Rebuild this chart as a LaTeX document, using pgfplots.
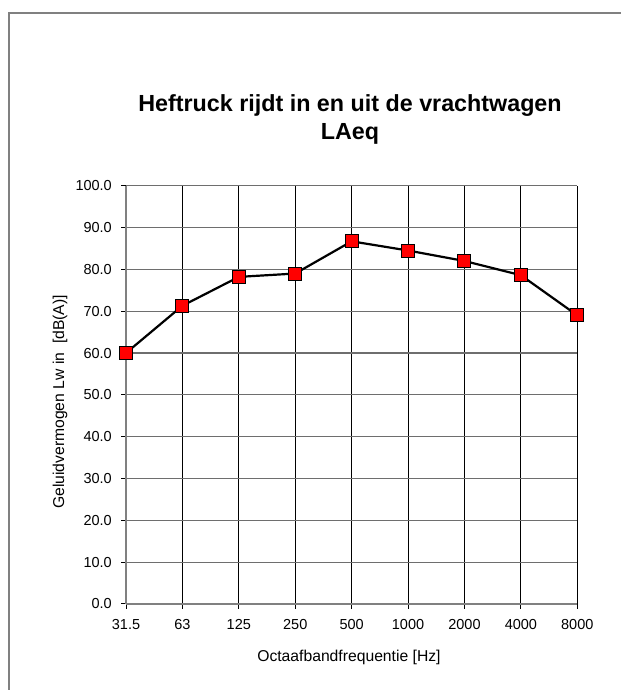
\documentclass[border=0pt]{standalone}
\usepackage{fontspec}
\setmainfont{Liberation Sans}
\usepackage{pgfplots}
\pgfplotsset{compat=1.18}
\definecolor{framegray}{RGB}{128,128,128}
\definecolor{gridgray}{RGB}{110,110,110}
\definecolor{mkred}{RGB}{255,0,0}
\begin{document}
\begin{tikzpicture}[x=1pt,y=1pt]
\useasboundingbox (0,0) rectangle (621,690);
\draw[framegray, line width=1.5pt] (9,0) -- (9,677) -- (621,677);
\node[anchor=base, font=\fontsize{23.3}{28}\selectfont\bfseries] at (350,578.3) {Heftruck rijdt in en uit de vrachtwagen};
\node[anchor=base, font=\fontsize{23.3}{28}\selectfont\bfseries] at (350,550) {LAeq};
\begin{axis}[
  at={(126pt,86pt)}, anchor=south west,
  scale only axis, width=451.3pt, height=418.3pt,
  xmin=0, xmax=8, ymin=0, ymax=100,
  clip=false,
  axis lines=left,
  axis line style={-, draw=framegray, line width=1.5pt},
  xtick={0,1,2,3,4,5,6,7,8},
  xticklabels={31.5,63,125,250,500,1000,2000,4000,8000},
  ytick={0,10,20,30,40,50,60,70,80,90,100},
  yticklabel={\pgfmathprintnumber[fixed,fixed zerofill,precision=1]{\tick}},
  /pgf/number format/assume math mode=true,
  tick align=outside,
  major tick length=5pt,
  tick style={draw=black, line width=1pt},
  ticklabel style={font=\fontsize{14.5}{17}\selectfont, inner sep=0pt},
  yticklabel style={xshift=-9pt},
  xticklabel style={yshift=-10pt},
  xmajorgrids, ymajorgrids,
  x grid style={draw=black, line width=0.9pt},
  y grid style={draw=gridgray, line width=1.3pt},
  xlabel={Octaafbandfrequentie [Hz]},
  ylabel={Geluidvermogen Lw in\ \ [dB(A)]},
  label style={font=\fontsize{15.7}{19}\selectfont},
  xlabel style={at={(axis description cs:0.494,-0.1363)}, anchor=base},
  ylabel style={at={(axis description cs:-0.137,0.483)}, anchor=base},
]
\addplot[black, line width=2.2pt, mark=square*, mark size=6.5pt,
  mark options={fill=mkred, draw=black, line width=1pt, solid}]
  coordinates {(0,60.0) (1,71.3) (2,78.2) (3,79.0) (4,86.7) (5,84.5) (6,82.0) (7,78.6) (8,69.0)};
\end{axis}
\end{tikzpicture}
\end{document}
